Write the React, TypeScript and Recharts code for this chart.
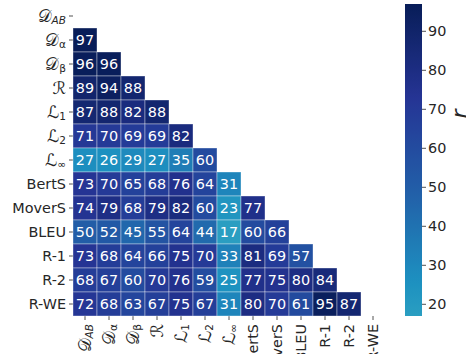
import React from 'react';
import { ScatterChart, Scatter, XAxis, YAxis, BarChart, Bar } from 'recharts';

// Labels (base glyph + subscript)
const labelBase = ['𝒟', '𝒟', '𝒟', 'ℛ', 'ℒ', 'ℒ', 'ℒ', 'BertS', 'MoverS', 'BLEU', 'R-1', 'R-2', 'R-WE'];
const labelSub = ['AB', 'α', 'β', '', '1', '2', '∞', '', '', '', '', '', ''];

// Lower-triangular correlation rows (row i, columns 0..i-1)
const rowDAB: number[] = [];
const rowDalpha = [97];
const rowDbeta = [96, 96];
const rowR = [89, 94, 88];
const rowL1 = [87, 88, 82, 88];
const rowL2 = [71, 70, 69, 69, 82];
const rowLinf = [27, 26, 29, 27, 35, 60];
const rowBertS = [73, 70, 65, 68, 76, 64, 31];
const rowMoverS = [74, 79, 68, 79, 82, 60, 23, 77];
const rowBLEU = [50, 52, 45, 55, 64, 44, 17, 60, 66];
const rowR1 = [73, 68, 64, 66, 75, 70, 33, 81, 69, 57];
const rowR2 = [68, 67, 60, 70, 76, 59, 25, 77, 75, 80, 84];
const rowRWE = [72, 68, 63, 67, 75, 67, 31, 80, 70, 61, 95, 87];
const rows = [rowDAB, rowDalpha, rowDbeta, rowR, rowL1, rowL2, rowLinf, rowBertS, rowMoverS, rowBLEU, rowR1, rowR2, rowRWE];

const colorbarTicks = [20, 30, 40, 50, 60, 70, 80, 90];
const colorbarLabel = 'r';
const vMin = 17;
const vMax = 97;

const N = labelBase.length;
const W = 466;
const H = 354;
const PLOT_LEFT = 73;
const PLOT_TOP = 4;
const PLOT_SIZE = 312;
const CELL = PLOT_SIZE / N;
const FONT = 'DejaVu Sans, sans-serif';

const cells: { x: number; y: number; v: number }[] = [];
rows.forEach((r, i) => r.forEach((v, j) => cells.push({ x: j + 0.5, y: i + 0.5, v })));
const ticks = labelBase.map((_, i) => i + 0.5);

// YlGnBu colormap
const YLGNBU = ['#ffffd9', '#edf8b1', '#c7e9b4', '#7fcdbb', '#41b6c4', '#1d91c0', '#225ea8', '#253494', '#081d58'];
const hex = (h: string) => [1, 3, 5].map((k) => parseInt(h.slice(k, k + 2), 16));
function cmap(t: number) {
  t = Math.max(0, Math.min(1, t));
  const p = t * (YLGNBU.length - 1);
  const i = Math.min(YLGNBU.length - 2, Math.floor(p));
  const f = p - i;
  const a = hex(YLGNBU[i]);
  const b = hex(YLGNBU[i + 1]);
  const c = a.map((av, k) => Math.round(av + (b[k] - av) * f));
  return `rgb(${c[0]},${c[1]},${c[2]})`;
}
const colorOf = (v: number) => cmap(0.58 + 0.42 * ((v - vMin) / (vMax - vMin)));

const Label = ({ i, x, y, anchor, rotate }: { i: number; x: number; y: number; anchor: string; rotate?: boolean }) => {
  const sub = labelSub[i];
  const isMath = sub !== '' || i === 3;
  const subItalic = /[A-Za-z]/.test(sub);
  return (
    <text
      x={x}
      y={y}
      textAnchor={anchor}
      dominantBaseline="central"
      transform={rotate ? `rotate(-90, ${x}, ${y})` : undefined}
      fontFamily={FONT}
      fontSize={14.4}
      fill="#262626"
    >
      <tspan fontSize={isMath ? 17 : 14.4}>{labelBase[i]}</tspan>
      {sub !== '' && (
        <tspan fontSize={10.5} fontStyle={subItalic ? 'italic' : 'normal'} dy={4}>
          {sub}
        </tspan>
      )}
    </text>
  );
};

const XTick = (props: any) => {
  const i = Math.floor(props.payload.value);
  return <Label i={i} x={props.x} y={props.y + 2} anchor="end" rotate />;
};
const YTick = (props: any) => {
  const i = Math.floor(props.payload.value);
  return <Label i={i} x={props.x - 1} y={props.y} anchor="end" />;
};

const CellShape = (props: any) => {
  const { cx, cy, payload } = props;
  return (
    <g>
      <rect
        x={cx - CELL / 2}
        y={cy - CELL / 2}
        width={CELL}
        height={CELL}
        fill={colorOf(payload.v)}
        stroke="rgba(255,255,255,0.45)"
        strokeWidth={0.8}
      />
      <text x={cx} y={cy} textAnchor="middle" dominantBaseline="central" fontFamily={FONT} fontSize={14.4} fill="#ffffff">
        {payload.v}
      </text>
    </g>
  );
};

const gradStops = Array.from({ length: 41 }, (_, k) => {
  const v = vMax - ((vMax - vMin) * k) / 40;
  return { off: `${(k / 40) * 100}%`, color: colorOf(v) };
});

const colorbarData = [{ name: 'cb', range: [vMin, vMax] }];

const RLabel = (props: any) => {
  const vb = props.viewBox || { x: 422, y: PLOT_TOP };
  const x = vb.x + 37;
  const y = vb.y + 110;
  return (
    <text
      x={x}
      y={y}
      transform={`rotate(-90, ${x}, ${y})`}
      textAnchor="middle"
      dominantBaseline="central"
      fontFamily={FONT}
      fontStyle="italic"
      fontSize={22}
      fill="#262626"
    >
      {colorbarLabel}
    </text>
  );
};

export default function App() {
  return (
    <div style={{ position: 'absolute', left: 0, top: 0, width: W, height: H, background: '#fff' }}>
      <div style={{ position: 'absolute', left: 0, top: 0 }}>
        <ScatterChart
          width={W}
          height={H}
          margin={{ top: PLOT_TOP, left: 0, right: W - PLOT_LEFT - PLOT_SIZE, bottom: 0 }}
        >
          <XAxis
            type="number"
            dataKey="x"
            domain={[0, N]}
            ticks={ticks}
            interval={0}
            height={H - PLOT_TOP - PLOT_SIZE}
            axisLine={false}
            tickSize={4}
            tickLine={{ stroke: '#262626', strokeWidth: 0.8 }}
            tick={<XTick />}
          />
          <YAxis
            type="number"
            dataKey="y"
            domain={[0, N]}
            reversed
            ticks={ticks}
            interval={0}
            width={PLOT_LEFT}
            axisLine={false}
            tickSize={4}
            tickLine={{ stroke: '#262626', strokeWidth: 0.8 }}
            tick={<YTick />}
          />
          <Scatter data={cells} shape={<CellShape />} isAnimationActive={false} />
        </ScatterChart>
      </div>
      <div style={{ position: 'absolute', left: 0, top: 0 }}>
        <BarChart
          width={W}
          height={H}
          data={colorbarData}
          margin={{ top: PLOT_TOP, left: 405, right: 0, bottom: H - PLOT_TOP - PLOT_SIZE }}
          barCategoryGap={0}
        >
          <defs>
            <linearGradient id="cbGrad" x1="0" y1="0" x2="0" y2="1">
              {gradStops.map((s, k) => (
                <stop key={k} offset={s.off} stopColor={s.color} />
              ))}
            </linearGradient>
          </defs>
          <XAxis dataKey="name" hide />
          <YAxis
            orientation="right"
            type="number"
            domain={[vMin, vMax]}
            ticks={colorbarTicks}
            width={44}
            axisLine={false}
            tickSize={4}
            tickMargin={2}
            tickLine={{ stroke: '#262626', strokeWidth: 0.8 }}
            tick={{ fontFamily: FONT, fontSize: 14.4, fill: '#262626' }}
            label={<RLabel />}
          />
          <Bar dataKey="range" fill="url(#cbGrad)" isAnimationActive={false} />
        </BarChart>
      </div>
    </div>
  );
}
